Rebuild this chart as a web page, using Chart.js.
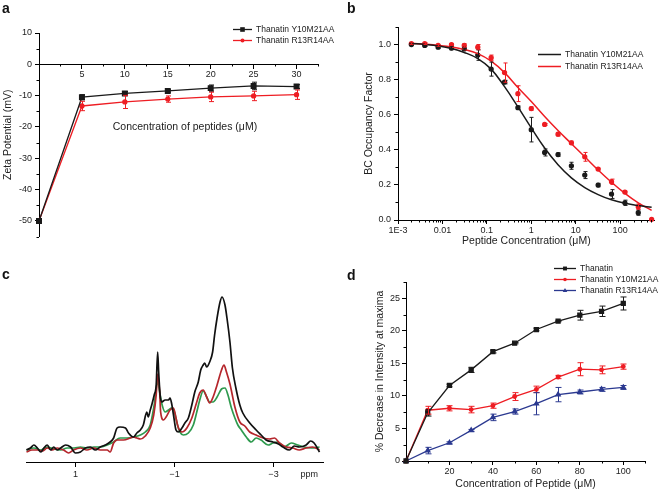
<!DOCTYPE html>
<html>
<head>
<meta charset="utf-8">
<script src="https://cdn.jsdelivr.net/npm/chart.js@4.4.0/dist/chart.umd.min.js"></script>
<style>
  body { margin: 0; background: #fff; font-family: "Liberation Sans", Arial, sans-serif; }
  #fig { position: relative; width: 660px; height: 491px; overflow: hidden; background: #fff; }
  #fig canvas { position: absolute; }
  .pl { position: absolute; font-weight: bold; font-size: 14px; line-height: 14px; color: #111; }
</style>
</head>
<body>
<div id="fig">
  <canvas id="ca" width="340" height="245" style="left:0;top:0"></canvas>
  <canvas id="cb" width="330" height="252" style="left:330px;top:0"></canvas>
  <canvas id="cc" width="330" height="246" style="left:0;top:245px"></canvas>
  <canvas id="cd" width="330" height="246" style="left:330px;top:245px"></canvas>
  <div class="pl" style="left:2px;top:1px">a</div>
  <div class="pl" style="left:347px;top:1px">b</div>
  <div class="pl" style="left:2px;top:267px">c</div>
  <div class="pl" style="left:347px;top:268px">d</div>
</div>
<script>
// ---------- panel a: zeta potential
const aConc = [0, 5, 10, 15, 20, 25, 30];
const aY10M21AA = [-50, -10.5, -9.3, -8.5, -7.6, -6.9, -7.1];
const aY10M21AAErr = [0, 0.8, 0.6, 0.4, 1.0, 1.2, 0.6];
const aR13R14AA = [-50, -13.3, -12.0, -11.1, -10.4, -10.1, -9.7];
const aR13R14AAErr = [0, 1.5, 2.1, 1.0, 1.5, 1.5, 1.5];
const aXTicks = [5, 10, 15, 20, 25, 30];
const aXMinor = [2.5, 7.5, 12.5, 17.5, 22.5, 27.5, 32.5];
const aYTicks = [10, 0, -10, -20, -30, -40, -50];
const aYMinor = [5, -5, -15, -25, -35, -45, -55];

// ---------- panel b: BC occupancy
const bConc = [0.002, 0.004, 0.008, 0.016, 0.031, 0.0625, 0.125, 0.25, 0.5, 1, 2, 4, 8, 16, 32, 64, 128, 256, 512];
const bY10M21AA = [1.0, 0.995, 0.985, 0.98, 0.975, 0.94, 0.86, 0.786, 0.64, 0.515, 0.385, 0.373, 0.309, 0.256, 0.199, 0.148, 0.098, 0.042, null];
const bY10M21AAErr = [0.005, 0.005, 0.008, 0.01, 0.005, 0.03, 0.04, 0.01, 0.01, 0.07, 0.02, 0.01, 0.02, 0.02, 0.01, 0.025, 0.015, 0.015, 0];
const bR13R14AA = [1.005, 1.005, 0.995, 1.0, 0.995, 0.985, 0.925, 0.84, 0.72, 0.635, 0.545, 0.489, 0.44, 0.36, 0.29, 0.218, 0.159, 0.076, 0.004];
const bR13R14AAErr = [0.005, 0.005, 0.005, 0.005, 0.01, 0.015, 0.015, 0.055, 0.045, 0.01, 0.005, 0.01, 0.01, 0.025, 0.005, 0.015, 0.005, 0.015, 0];
// fitted curves at the same concentrations
const bFitY10M21AA = [1.006, 1.0, 0.992, 0.978, 0.955, 0.92, 0.86, 0.76, 0.645, 0.525, 0.41, 0.315, 0.24, 0.185, 0.145, 0.115, 0.095, 0.082, 0.073];
const bFitR13R14AA = [1.008, 1.002, 0.995, 0.986, 0.972, 0.948, 0.905, 0.84, 0.755, 0.675, 0.59, 0.51, 0.435, 0.36, 0.285, 0.215, 0.152, 0.098, 0.055];
const bXTicks = [0.001, 0.01, 0.1, 1, 10, 100];
const bXLabels = ['1E-3', '0.01', '0.1', '1', '10', '100'];
const bXMinor = [0.002, 0.003, 0.004, 0.005, 0.006, 0.007, 0.008, 0.009,
  0.02, 0.03, 0.04, 0.05, 0.06, 0.07, 0.08, 0.09,
  0.2, 0.3, 0.4, 0.5, 0.6, 0.7, 0.8, 0.9,
  2, 3, 4, 5, 6, 7, 8, 9,
  20, 30, 40, 50, 60, 70, 80, 90,
  200, 300, 400, 500];
const bYTicks = [0, 0.2, 0.4, 0.6, 0.8, 1.0];
const bYMinor = [0.1, 0.3, 0.5, 0.7, 0.9, 1.1];

// ---------- panel c: spectra [ppm, intensity]
const cBlack = [[1.99,12],[1.91,14],[1.84,17],[1.77,14],[1.70,10],[1.64,14],[1.57,17],[1.50,12],[1.44,15],[1.37,12],[1.30,14],[1.20,17],[1.10,15],[1.00,9],[0.90,10],[0.80,14],[0.70,15],[0.60,12],[0.50,15],[0.40,17],[0.30,20],[0.23,24],[0.16,34],[0.10,35],[-0.01,34],[-0.07,29],[-0.17,25],[-0.24,29],[-0.31,32],[-0.37,37],[-0.44,50],[-0.47,45],[-0.51,52],[-0.54,57],[-0.59,67],[-0.63,77],[-0.66,110],[-0.68,90],[-0.71,67],[-0.74,60],[-0.81,62],[-0.88,62],[-0.91,64],[-0.94,59],[-0.98,47],[-1.03,32],[-1.08,30],[-1.15,34],[-1.21,39],[-1.28,44],[-1.35,57],[-1.41,70],[-1.48,80],[-1.53,92],[-1.58,97],[-1.61,99],[-1.65,95],[-1.71,100],[-1.77,110],[-1.81,127],[-1.86,144],[-1.92,160],[-1.96,165],[-2.02,157],[-2.06,144],[-2.12,120],[-2.17,94],[-2.24,74],[-2.32,57],[-2.38,49],[-2.52,39],[-2.65,32],[-2.75,27],[-2.85,22],[-2.99,20],[-3.10,18],[-3.19,15],[-3.32,12],[-3.42,16],[-3.52,15],[-3.66,17],[-3.75,21],[-3.82,19],[-3.93,10]];
const cRed = [[1.99,10],[1.88,12],[1.77,12],[1.67,11],[1.57,14],[1.47,12],[1.37,14],[1.24,12],[1.14,9],[1.04,12],[0.90,14],[0.77,12],[0.63,14],[0.50,12],[0.36,12],[0.30,10],[0.23,19],[0.16,22],[0.03,22],[-0.11,24],[-0.17,25],[-0.24,24],[-0.31,23],[-0.41,26],[-0.51,34],[-0.58,47],[-0.63,67],[-0.66,88],[-0.70,70],[-0.72,50],[-0.78,42],[-0.83,45],[-0.91,52],[-0.98,54],[-1.03,44],[-1.08,34],[-1.15,30],[-1.25,34],[-1.35,44],[-1.45,60],[-1.51,69],[-1.58,72],[-1.65,65],[-1.71,59],[-1.78,65],[-1.86,77],[-1.95,92],[-2.00,97],[-2.05,90],[-2.12,78],[-2.22,55],[-2.32,40],[-2.42,36],[-2.52,30],[-2.65,27],[-2.79,24],[-2.92,23],[-3.02,24],[-3.12,19],[-3.26,15],[-3.39,14],[-3.52,12],[-3.66,14],[-3.79,15],[-3.93,12]];
const cGreen = [[1.99,12],[1.84,14],[1.70,12],[1.57,15],[1.44,13],[1.30,12],[1.17,14],[1.03,14],[0.90,15],[0.77,14],[0.63,15],[0.50,15],[0.36,17],[0.23,20],[0.10,24],[-0.04,24],[-0.17,25],[-0.31,27],[-0.41,30],[-0.51,37],[-0.59,57],[-0.66,81],[-0.70,70],[-0.74,59],[-0.81,50],[-0.88,52],[-0.94,54],[-1.00,50],[-1.06,37],[-1.11,30],[-1.18,27],[-1.28,29],[-1.38,37],[-1.45,50],[-1.51,62],[-1.58,71],[-1.65,65],[-1.71,60],[-1.78,60],[-1.86,65],[-1.95,73],[-2.02,74],[-2.08,67],[-2.15,54],[-2.22,44],[-2.28,37],[-2.35,32],[-2.45,25],[-2.55,20],[-2.65,24],[-2.75,22],[-2.89,17],[-2.99,19],[-3.09,20],[-3.22,15],[-3.36,19],[-3.49,17],[-3.62,15],[-3.76,14],[-3.93,15]];
const cXTicks = [1, -1, -3];

// ---------- panel d: intensity decrease
const dConc = [0, 10, 20, 30, 40, 50, 60, 70, 80, 90, 100];
const dThanatin = [0, 7.4, 11.6, 14.0, 16.8, 18.1, 20.2, 21.5, 22.4, 23.0, 24.2];
const dThanatinErr = [0, 0.5, 0.2, 0.4, 0.2, 0.1, 0.2, 0.1, 0.75, 0.8, 1.0];
const dY10M21AA = [0, 7.8, 8.1, 7.9, 8.5, 9.9, 11.0, 12.9, 14.1, 14.0, 14.5];
const dY10M21AAErr = [0, 0.6, 0.4, 0.5, 0.4, 0.6, 0.5, 0.25, 1.0, 0.6, 0.4];
const dR13R14AA = [0, 1.6, 2.8, 4.7, 6.7, 7.6, 8.8, 10.2, 10.6, 11.0, 11.3];
const dR13R14AAErr = [0, 0.5, 0.15, 0.15, 0.5, 0.4, 1.7, 1.1, 0.3, 0.3, 0.3];
const dXTicks = [20, 40, 60, 80, 100];
const dXMinor = [10, 30, 50, 70, 90, 110];
const dYTicks = [0, 5, 10, 15, 20, 25];
const dYMinor = [2.5, 7.5, 12.5, 17.5, 22.5, 27.5];

const BLACK = '#1a1a1a', RED = '#ee1d23', BLUE = '#2b3990';

Chart.defaults.font.family = '"Liberation Sans", Arial, sans-serif';
Chart.defaults.color = '#222';
Chart.defaults.animation = false;
Chart.defaults.plugins.legend.display = false;
Chart.defaults.plugins.tooltip.enabled = false;

const pairs = (xs, ys) => xs.map((x, i) => ({ x, y: ys[i] }));

function makeAxis(o) {
  const ax = {
    type: o.type || 'linear',
    display: o.display !== false,
    position: o.position,
    min: o.min, max: o.max, reverse: !!o.reverse,
    border: { display: true, color: '#000', width: 1 },
    grid: { drawOnChartArea: false, drawTicks: true, tickLength: o.tick || 4, color: '#000' },
    ticks: { font: { size: 9 }, color: '#222', padding: o.pad == null ? 2 : o.pad, autoSkip: false, maxRotation: 0, callback: o.label || (v => v) },
    title: o.title ? { display: true, text: o.title, font: { size: 10.5 }, color: '#222', padding: o.titlePad } : { display: false }
  };
  if (o.ticks) ax.afterBuildTicks = s => { s.ticks = o.ticks.map(v => ({ value: v })); };
  if (o.size != null) ax.afterFit = s => { if (s.isHorizontal()) s.height = o.size; else s.width = o.size; };
  return ax;
}

// short outward minor ticks
function minorTicks(sets) {
  return {
    id: 'minorTicks',
    afterDraw(chart) {
      const ctx = chart.ctx;
      ctx.save();
      ctx.strokeStyle = '#000';
      ctx.lineWidth = 1;
      ctx.beginPath();
      sets.forEach(([id, values]) => {
        const s = chart.scales[id];
        values.forEach(v => {
          const p = Math.round(s.getPixelForValue(v)) + 0.5;
          if (s.isHorizontal()) {
            const pos = s.options.position;
            const y0 = typeof pos === 'object' ? Math.round(chart.scales.y.getPixelForValue(pos.y)) : Math.round(s.top);
            ctx.moveTo(p, y0); ctx.lineTo(p, y0 + 2.5);
          } else {
            const x0 = Math.round(s.right);
            ctx.moveTo(x0, p); ctx.lineTo(x0 - 2.5, p);
          }
        });
      });
      ctx.stroke();
      ctx.restore();
    }
  };
}

const errorBars = {
  id: 'errorBars',
  afterDatasetsDraw(chart) {
    const ctx = chart.ctx;
    chart.data.datasets.forEach((ds, i) => {
      if (!ds.errors) return;
      const meta = chart.getDatasetMeta(i);
      const ys = chart.scales[meta.yAxisID];
      const cap = ds.cap || 2.5;
      ctx.save();
      ctx.strokeStyle = ds.borderColor;
      ctx.lineWidth = 1;
      ctx.beginPath();
      meta.data.forEach((pt, j) => {
        const e = ds.errors[j];
        const parsed = meta.controller.getParsed(j);
        if (!e || !parsed || parsed.y == null || isNaN(parsed.y)) return;
        const x = Math.round(pt.x) + 0.5;
        const y1 = ys.getPixelForValue(parsed.y + e), y2 = ys.getPixelForValue(parsed.y - e);
        ctx.moveTo(x, y1); ctx.lineTo(x, y2);
        ctx.moveTo(x - cap, y1); ctx.lineTo(x + cap, y1);
        ctx.moveTo(x - cap, y2); ctx.lineTo(x + cap, y2);
      });
      ctx.stroke();
      ctx.restore();
    });
  }
};

function drawMarker(ctx, style, r, x, y) {
  ctx.beginPath();
  if (style === 'rect') ctx.rect(x - r * 0.7, y - r * 0.7, r * 1.4, r * 1.4);
  else if (style === 'triangle') { ctx.moveTo(x, y - r); ctx.lineTo(x + r * 0.9, y + r * 0.6); ctx.lineTo(x - r * 0.9, y + r * 0.6); ctx.closePath(); }
  else ctx.arc(x, y, r, 0, Math.PI * 2);
  ctx.fill();
}

function lineLegend(x, y, gap, len, marker) {
  return {
    id: 'lineLegend',
    afterDraw(chart) {
      const ctx = chart.ctx;
      ctx.save();
      ctx.font = '8.5px "Liberation Sans", Arial, sans-serif';
      ctx.textBaseline = 'middle';
      chart.data.datasets.filter(d => d.inLegend).forEach((ds, i) => {
        const yy = Math.round(y + i * gap) + 0.5;
        ctx.strokeStyle = ds.borderColor;
        ctx.fillStyle = ds.borderColor;
        ctx.lineWidth = ds.borderWidth;
        ctx.beginPath(); ctx.moveTo(x, yy); ctx.lineTo(x + len, yy); ctx.stroke();
        if (marker) drawMarker(ctx, ds.pointStyle, ds.pointRadius, x + len / 2, yy);
        ctx.fillStyle = '#222';
        ctx.fillText(ds.label, x + len + 4, yy);
      });
      ctx.restore();
    }
  };
}

// text placed at data coordinates
function innerText(items) {
  return {
    id: 'innerText',
    afterDraw(chart) {
      const ctx = chart.ctx;
      ctx.save();
      ctx.fillStyle = '#222';
      ctx.textAlign = 'center';
      ctx.textBaseline = 'middle';
      items.forEach(it => {
        ctx.font = it.size + 'px "Liberation Sans", Arial, sans-serif';
        ctx.fillText(it.text, chart.scales.x.getPixelForValue(it.x), chart.scales.y.getPixelForValue(it.y));
      });
      ctx.restore();
    }
  };
}

function series(label, data, color, extra) {
  return Object.assign({ label, data, borderColor: color, backgroundColor: color, borderWidth: 1.3, clip: false }, extra);
}

// panel a
new Chart(document.getElementById('ca'), {
  type: 'line',
  data: { datasets: [
    series('Thanatin Y10M21AA', pairs(aConc, aY10M21AA), BLACK, { errors: aY10M21AAErr, pointStyle: 'rect', pointRadius: 3.3, inLegend: true }),
    series('Thanatin R13R14AA', pairs(aConc, aR13R14AA), RED, { errors: aR13R14AAErr, pointStyle: 'circle', pointRadius: 2, inLegend: true })
  ] },
  options: {
    responsive: false,
    layout: { padding: { left: 0, top: 33, right: 22, bottom: 3 } },
    scales: {
      x: makeAxis({ min: 0, max: 32.5, position: { y: 0 }, ticks: aXTicks, size: 0, pad: 1 }),
      y: makeAxis({ min: -55, max: 10, position: 'left', ticks: aYTicks, size: 39, pad: 3, title: 'Zeta Potential (mV)', titlePad: { top: 1.7, bottom: 0 } })
    }
  },
  plugins: [errorBars, minorTicks([['x', aXMinor], ['y', aYMinor]]), lineLegend(233, 29, 11, 19, true),
    innerText([{ x: 17, y: -20, text: 'Concentration of peptides (\u03bcM)', size: 10.5 }])]
});

// panel b
new Chart(document.getElementById('cb'), {
  type: 'line',
  data: { datasets: [
    series('Thanatin Y10M21AA', pairs(bConc, bFitY10M21AA), BLACK, { borderWidth: 1.5, pointRadius: 0, tension: 0.4, inLegend: true }),
    series('Thanatin R13R14AA', pairs(bConc, bFitR13R14AA), RED, { borderWidth: 1.5, pointRadius: 0, tension: 0.4, inLegend: true }),
    series('Y10M21AA data', pairs(bConc, bY10M21AA), BLACK, { showLine: false, pointRadius: 2, errors: bY10M21AAErr, cap: 2 }),
    series('R13R14AA data', pairs(bConc, bR13R14AA), RED, { showLine: false, pointRadius: 2, errors: bR13R14AAErr, cap: 2 })
  ] },
  options: {
    responsive: false,
    layout: { padding: { left: 0, top: 27, right: 0, bottom: 0 } },
    scales: {
      x: makeAxis({ type: 'logarithmic', min: 0.001, max: 600, position: 'bottom', ticks: bXTicks, size: 32, pad: 1,
        label: (v, i) => bXLabels[i], title: 'Peptide Concentration (\u03bcM)', titlePad: { top: 0, bottom: 4.7 } }),
      y: makeAxis({ min: 0, max: 1.1, position: 'left', ticks: bYTicks, size: 68, pad: 3, label: v => v.toFixed(1),
        title: 'BC Occupancy Factor', titlePad: { top: 32.7, bottom: 0 } })
    }
  },
  plugins: [errorBars, minorTicks([['x', bXMinor], ['y', bYMinor]]), lineLegend(208, 54, 12, 23, false)]
});

// panel c
const cPts = arr => arr.map(p => ({ x: p[0], y: p[1] }));
new Chart(document.getElementById('cc'), {
  type: 'line',
  data: { datasets: [
    series('black', cPts(cBlack), '#111111', { borderWidth: 1.7, pointRadius: 0, cubicInterpolationMode: 'monotone' }),
    series('red', cPts(cRed), '#b5262c', { borderWidth: 1.7, pointRadius: 0, cubicInterpolationMode: 'monotone' }),
    series('green', cPts(cGreen), '#2e9a4e', { borderWidth: 1.7, pointRadius: 0, cubicInterpolationMode: 'monotone' })
  ] },
  options: {
    responsive: false,
    layout: { padding: { left: 26, top: 35, right: 7, bottom: 0 } },
    scales: {
      x: makeAxis({ min: -4, max: 2, reverse: true, position: 'bottom', ticks: cXTicks, size: 29, tick: 5, pad: 2,
        label: v => (v < 0 ? '\u2212' + Math.abs(v) : String(v)) }),
      y: makeAxis({ min: 0, max: 182, display: false })
    }
  },
  plugins: [innerText([{ x: -3.72, y: -13, text: 'ppm', size: 9 }])]
});

// panel d
new Chart(document.getElementById('cd'), {
  type: 'line',
  data: { datasets: [
    series('Thanatin', pairs(dConc, dThanatin), BLACK, { errors: dThanatinErr, pointStyle: 'rect', pointRadius: 2.8, cap: 3, inLegend: true }),
    series('Thanatin Y10M21AA', pairs(dConc, dY10M21AA), RED, { errors: dY10M21AAErr, pointStyle: 'circle', pointRadius: 1.8, cap: 3, inLegend: true }),
    series('Thanatin R13R14AA', pairs(dConc, dR13R14AA), BLUE, { errors: dR13R14AAErr, pointStyle: 'triangle', pointRadius: 2.5, cap: 3, inLegend: true })
  ] },
  options: {
    responsive: false,
    layout: { padding: { left: 0, top: 37, right: 15, bottom: 0 } },
    scales: {
      x: makeAxis({ min: 0, max: 110, position: 'bottom', ticks: dXTicks, size: 30, pad: 1,
        title: 'Concentration of Peptide (\u03bcM)', titlePad: { top: 0, bottom: 0.7 } }),
      y: makeAxis({ min: 0, max: 27.5, position: 'left', ticks: dYTicks, size: 76, pad: 2,
        title: '% Decrease in Intensity at maxima', titlePad: { top: 43.7, bottom: 0 } })
    }
  },
  plugins: [errorBars, minorTicks([['x', dXMinor], ['y', dYMinor]]), lineLegend(224, 23, 11, 22, true)]
});
</script>
</body>
</html>
